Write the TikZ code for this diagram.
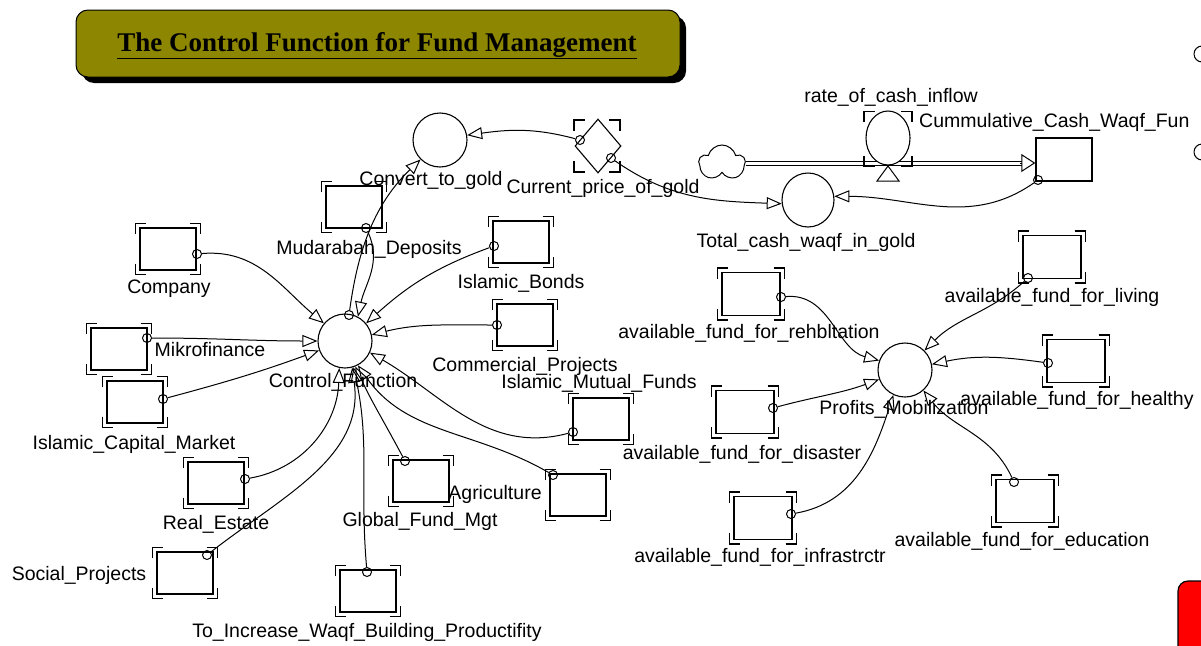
\documentclass[tikz,border=0pt]{standalone}
\usepackage{fontspec}
\setmainfont{Liberation Sans}
\newfontfamily\titlefont{Liberation Serif}
\usetikzlibrary{arrows.meta,shapes.geometric,shapes.symbols}
\tikzset{
 aux/.style={circle,draw,line width=1.1pt,minimum size=54pt,inner sep=0pt},
 stock/.style={rectangle,draw,line width=1.4pt,minimum width=56pt,minimum height=42pt,inner sep=0pt},
 gbox/.style={rectangle,inner sep=0pt},
 lbl/.style={font=\fontsize{19.5}{22}\selectfont,inner sep=0pt},
 tailc/.style={circle,draw,line width=1pt,minimum size=9pt,inner sep=0pt},
 conn/.style={line width=1pt,-{Triangle[open,length=15pt,width=12pt,line width=1pt]}},
 brk/.style={line width=1.5pt},
 pipeline/.style={line width=1pt},
}
\newcommand\ghostmarks[1]{%
 \draw[brk] ([shift={(-4pt,-7pt)}]#1.north west) -- ([shift={(-4pt,4pt)}]#1.north west) -- ([shift={(7pt,4pt)}]#1.north west);
 \draw[brk] ([shift={(-7pt,4pt)}]#1.north east) -- ([shift={(4pt,4pt)}]#1.north east) -- ([shift={(4pt,-7pt)}]#1.north east);
 \draw[brk] ([shift={(-4pt,7pt)}]#1.south west) -- ([shift={(-4pt,-4pt)}]#1.south west) -- ([shift={(7pt,-4pt)}]#1.south west);
 \draw[brk] ([shift={(-7pt,-4pt)}]#1.south east) -- ([shift={(4pt,-4pt)}]#1.south east) -- ([shift={(4pt,7pt)}]#1.south east);}
\begin{document}
\begin{tikzpicture}[x=1pt,y=-1pt]
\clip (0,0) rectangle (1201,645);
\fill[white] (0,0) rectangle (1201,645);

% title
\node[fill=black,rounded corners=12pt,minimum width=604pt,minimum height=67pt,inner sep=0pt] (titleshadow) at (384,49.5) {};
\node[draw,line width=1pt,fill=olive,rounded corners=12pt,minimum width=604pt,minimum height=67pt,inner sep=0pt] (title) at (378,43.5) {};
\node[anchor=base,inner sep=0pt,font=\titlefont\bfseries\fontsize{27}{30}\selectfont] (titletext) at (377,51) {\underline{The Control Function for Fund Management}};

% red box at lower right
\node[draw,line width=1.2pt,fill=red,rounded corners=10pt,minimum width=50pt,minimum height=80pt,inner sep=0pt] (redbox) at (1203,621) {};
% partial circles at right edge
\node[circle,draw,line width=1pt,minimum size=16pt,inner sep=0pt] (edgecirc1) at (1202,54) {};
\node[circle,draw,line width=1pt,minimum size=16pt,inner sep=0pt] (edgecirc2) at (1202,152) {};

% ---------- top: gold and cash flow ----------
\node[aux] (convert) at (440,140) {};
\node[lbl] (convert-l) at (431,180) {Convert\_to\_gold};

\node[diamond,draw,line width=1.1pt,minimum width=46pt,minimum height=54pt,inner sep=0pt] (price) at (598,146) {};
\node[gbox,minimum width=38pt,minimum height=44pt] (pricebox) at (597,146) {};
\ghostmarks{pricebox}
\node[lbl] (price-l) at (603,188) {Current\_price\_of\_gold};

\node[cloud,draw,line width=1pt,cloud puffs=5,aspect=1.25,minimum width=46pt,minimum height=36pt,inner sep=0pt] (cloud) at (722,163) {};
\node[stock,minimum width=56pt,minimum height=43pt] (cum) at (1064,159.5) {};
\node[lbl,anchor=west] (cum-l) at (919,122) {Cummulative\_Cash\_Waqf\_Fun};
\coordinate (pipeend) at (cum.west |- cloud.east);
\draw[pipeline] ([yshift=2pt]cloud.east) -- ([yshift=2pt,xshift=-13pt]pipeend);
\draw[pipeline] ([yshift=-2pt]cloud.east) -- ([yshift=-2pt,xshift=-13pt]pipeend);
\draw[line width=1pt,-{Triangle[open,length=14pt,width=18pt,line width=1pt]}] ([xshift=-15pt]pipeend) -- (pipeend);
\node[ellipse,draw,line width=1.1pt,minimum width=44pt,minimum height=54pt,inner sep=0pt,fill=white] (rate) at (888,138) {};
\node[gbox,minimum width=40pt,minimum height=47pt] (ratebox) at (888,139) {};
\ghostmarks{ratebox}
\draw[line width=1pt] (888,166) -- (877,181) -- (899,181) -- cycle;
\node[lbl] (rate-l) at (891,97) {rate\_of\_cash\_inflow};

\node[ellipse,draw,line width=1.1pt,minimum width=52pt,minimum height=54pt,inner sep=0pt] (total) at (808,200) {};
\node[lbl] (total-l) at (806,242) {Total\_cash\_waqf\_in\_gold};

\node[tailc] (t-price1) at (580,140) {};
\node[tailc] (t-price2) at (611,158) {};
\node[tailc] (t-cum) at (1038,180) {};
\draw[conn] (t-price1) to[out=165,in=8] (convert.10);
\draw[conn] (t-price2) to[out=-35,in=178] (total.188);
\draw[conn] (t-cum) to[out=215,in=0] (total.8);

% ---------- left cluster ----------
\node[aux] (cf) at (345,341) {};
\node[lbl] (cf-l) at (343,382) {Control\_Function};

\node[stock] (mud) at (354,207) {}; \ghostmarks{mud}
\node[lbl] (mud-l) at (369,249) {Mudarabah\_Deposits};
\node[stock] (company) at (168,249) {}; \ghostmarks{company}
\node[lbl] (company-l) at (169,289) {Company};
\node[stock] (bonds) at (521,242) {}; \ghostmarks{bonds}
\node[lbl] (bonds-l) at (521,283) {Islamic\_Bonds};
\node[stock] (mikro) at (119,349) {}; \ghostmarks{mikro}
\node[lbl] (mikro-l) at (210,350) {Mikrofinance};
\node[stock] (comm) at (525,325) {}; \ghostmarks{comm}
\node[lbl] (comm-l) at (525,366) {Commercial\_Projects};
\node[stock] (icm) at (135,402) {}; \ghostmarks{icm}
\node[lbl] (icm-l) at (134,444) {Islamic\_Capital\_Market};
\node[stock] (imf) at (601,419) {}; \ghostmarks{imf}
\node[lbl] (imf-l) at (599,383) {Islamic\_Mutual\_Funds};
\node[stock] (real) at (216,483) {}; \ghostmarks{real}
\node[lbl] (real-l) at (216,524) {Real\_Estate};
\node[stock] (global) at (421,481) {}; \ghostmarks{global}
\node[lbl] (global-l) at (420,521) {Global\_Fund\_Mgt};
\node[stock] (agri) at (578,495) {}; \ghostmarks{agri}
\node[lbl] (agri-l) at (495,494) {Agriculture};
\node[stock] (social) at (185,573) {}; \ghostmarks{social}
\node[lbl] (social-l) at (79,575) {Social\_Projects};
\node[stock] (incr) at (368,591) {}; \ghostmarks{incr}
\node[lbl] (incr-l) at (367,632) {To\_Increase\_Waqf\_Building\_Productifity};

\node[tailc] (t-cf) at (349,315) {};
\node[tailc] (t-mud) at (366,228) {};
\node[tailc] (t-company) at (197,254) {};
\node[tailc] (t-bonds) at (494,246) {};
\node[tailc] (t-mikro) at (147,338) {};
\node[tailc] (t-comm) at (497,325) {};
\node[tailc] (t-icm) at (163,399) {};
\node[tailc] (t-imf) at (573,432) {};
\node[tailc] (t-real) at (245,479) {};
\node[tailc] (t-global) at (405,461) {};
\node[tailc] (t-agri) at (553,475) {};
\node[tailc] (t-social) at (207,555) {};
\node[tailc] (t-incr) at (367,572) {};

\draw[conn] (t-cf) .. controls (356,265) and (368,210) .. (convert.225);
\draw[conn] (t-mud) to[out=-65,in=78] (cf.62);
\draw[conn] (t-company) to[out=5,in=140] (cf.140);
\draw[conn] (t-bonds) to[out=200,in=42] (cf.40);
\draw[conn] (t-mikro) to[out=0,in=180] (cf.180);
\draw[conn] (t-comm) to[out=180,in=14] (cf.13);
\draw[conn] (t-icm) to[out=15,in=200] (cf.200);
\draw[conn] (t-imf) to[out=195,in=330] (cf.335);
\draw[conn] (t-real) to[out=10,in=268] (cf.258);
\draw[conn] (t-global) to[out=118,in=295] (cf.292);
\draw[conn] (t-agri) to[out=150,in=305] (cf.298);
\draw[conn] (t-social) to[out=38,in=278] (cf.285);
\draw[conn] (t-incr) to[out=95,in=282] (cf.288);

% ---------- right cluster ----------
\node[aux] (pm) at (905,370) {};
\node[lbl] (pm-l) at (904,409) {Profits\_Mobilization};

\node[stock,minimum width=58pt,minimum height=43pt] (reh) at (751,294) {}; \ghostmarks{reh}
\node[lbl] (reh-l) at (749,333) {available\_fund\_for\_rehbltation};
\node[stock,minimum width=58pt,minimum height=43pt] (living) at (1052,257) {}; \ghostmarks{living}
\node[lbl] (living-l) at (1052,297) {available\_fund\_for\_living};
\node[stock,minimum width=58pt,minimum height=43pt] (healthy) at (1076,361) {}; \ghostmarks{healthy}
\node[lbl] (healthy-l) at (1077,400) {available\_fund\_for\_healthy};
\node[stock,minimum width=58pt,minimum height=43pt] (disaster) at (745,412) {}; \ghostmarks{disaster}
\node[lbl] (disaster-l) at (742,454) {available\_fund\_for\_disaster};
\node[stock,minimum width=58pt,minimum height=43pt] (infra) at (763,518) {}; \ghostmarks{infra}
\node[lbl] (infra-l) at (760,557) {available\_fund\_for\_infrastrctr};
\node[stock,minimum width=58pt,minimum height=43pt] (edu) at (1025,501) {}; \ghostmarks{edu}
\node[lbl] (edu-l) at (1022,541) {available\_fund\_for\_education};

\node[tailc] (t-reh) at (781,297) {};
\node[tailc] (t-living) at (1028,278) {};
\node[tailc] (t-healthy) at (1048,363) {};
\node[tailc] (t-disaster) at (773,408) {};
\node[tailc] (t-infra) at (791,514) {};
\node[tailc] (t-edu) at (1014,482) {};

\draw[conn] (t-reh) to[out=5,in=165] (pm.160);
\draw[conn] (t-living) to[out=222,in=45] (pm.45);
\draw[conn] (t-healthy) to[out=172,in=12] (pm.12);
\draw[conn] (t-disaster) to[out=15,in=200] (pm.200);
\draw[conn] (t-infra) to[out=10,in=252] (pm.245);
\draw[conn] (t-edu) to[out=115,in=-52] (pm.-48);
\end{tikzpicture}
\end{document}
